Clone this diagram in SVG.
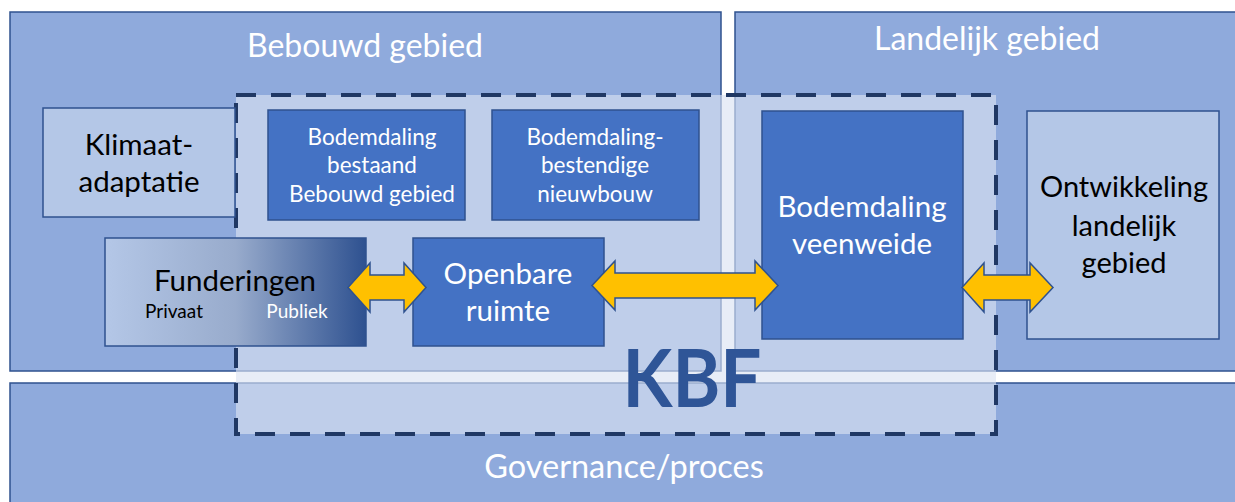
<svg xmlns="http://www.w3.org/2000/svg" width="1235" height="502" viewBox="0 0 1235 502">
<defs>
<linearGradient id="fund" x1="0" y1="0" x2="1" y2="0">
<stop offset="0" stop-color="#b4c7e7"/>
<stop offset="0.5" stop-color="#98abcc"/>
<stop offset="1" stop-color="#2e5190"/>
</linearGradient>
<style>
.panel{fill:#8faadc;stroke:#2f528f;stroke-width:1.5}
.light{fill:#b4c7e7;stroke:#2f528f;stroke-width:1.5}
.blue{fill:#4472c4;stroke:#2f528f;stroke-width:1.5}
.t{font-family:Lato,"Liberation Sans",sans-serif;text-anchor:middle}
.w{fill:#ffffff}
.k{fill:#000000}
.arrow{fill:#ffc000;stroke:#2f528f;stroke-width:1.5;stroke-linejoin:miter}
</style>
</defs>
<rect width="1235" height="502" fill="#ffffff"/>
<g id="bebouwd-gebied">
<rect class="panel" x="10" y="12" width="711" height="359"/>
<text class="t w" x="365" y="57" font-size="32">Bebouwd gebied</text>
</g>
<g id="landelijk-gebied">
<rect class="panel" x="735" y="12" width="510" height="359"/>
<text class="t w" x="987" y="50" font-size="32">Landelijk gebied</text>
</g>
<g id="governance">
<rect class="panel" x="10" y="383" width="1235" height="130"/>
<text class="t w" x="624" y="478" font-size="32.5">Governance/proces</text>
</g>
<g id="kbf">
<rect x="236" y="95" width="760" height="339" fill="#dae3f3" fill-opacity="0.63"/>
<rect x="236" y="95" width="760" height="339" fill="none" stroke="#203864" stroke-width="4" stroke-dasharray="20 15"/>
</g>
<g id="klimaatadaptatie">
<rect class="light" x="43" y="108" width="192" height="109"/>
<text class="t k" x="139" y="155" font-size="29.5">Klimaat-</text>
<text class="t k" x="139" y="192" font-size="29.5">adaptatie</text>
</g>
<g id="bodemdaling-bestaand">
<rect class="blue" x="268" y="110" width="197" height="110"/>
<text class="t w" x="372" y="145" font-size="22.5">Bodemdaling</text>
<text class="t w" x="372" y="173" font-size="22.5">bestaand</text>
<text class="t w" x="372" y="202" font-size="22.5">Bebouwd gebied</text>
</g>
<g id="bodemdaling-nieuwbouw">
<rect class="blue" x="492" y="110" width="207" height="110"/>
<text class="t w" x="595" y="145" font-size="22.5">Bodemdaling-</text>
<text class="t w" x="595" y="173" font-size="22.5">bestendige</text>
<text class="t w" x="595" y="202" font-size="22.5">nieuwbouw</text>
</g>
<g id="bodemdaling-veenweide">
<rect class="blue" x="762" y="111" width="201" height="228"/>
<text class="t w" x="862" y="217" font-size="29.5">Bodemdaling</text>
<text class="t w" x="862" y="254" font-size="29.5">veenweide</text>
</g>
<g id="ontwikkeling-landelijk">
<rect class="light" x="1027" y="111" width="192" height="228"/>
<text class="t k" x="1124" y="197" font-size="29">Ontwikkeling</text>
<text class="t k" x="1124" y="236" font-size="29">landelijk</text>
<text class="t k" x="1124" y="273" font-size="29">gebied</text>
</g>
<g id="funderingen">
<rect x="105" y="238" width="261" height="108" fill="url(#fund)" stroke="#2f528f" stroke-width="1.5"/>
<text class="t k" x="235" y="291" font-size="29.5">Funderingen</text>
<text class="t k" x="174" y="318" font-size="19">Privaat</text>
<text class="t w" x="297" y="318" font-size="19">Publiek</text>
</g>
<g id="openbare-ruimte">
<rect class="blue" x="413" y="238" width="191" height="108"/>
<text class="t w" x="508" y="284" font-size="29.5">Openbare</text>
<text class="t w" x="508" y="321" font-size="29.5">ruimte</text>
</g>
<g id="connectors">
<path class="arrow" d="M348,287.5 L370,263 L370,275 L404,275 L404,263 L426,287.5 L404,312 L404,300 L370,300 L370,312 Z"/>
<path class="arrow" d="M592,285.5 L615,261 L615,273 L755,273 L755,261 L778,285.5 L755,310 L755,298 L615,298 L615,310 Z"/>
<path class="arrow" d="M962,287.5 L984,263 L984,275 L1030,275 L1030,263 L1053,287.5 L1030,312 L1030,300 L984,300 L984,312 Z"/>
</g>
<g id="kbf-label">
<text class="t" x="692" y="407" font-size="80" font-weight="bold" fill="#2f5597" textLength="139" lengthAdjust="spacingAndGlyphs">KBF</text>
</g>
</svg>
